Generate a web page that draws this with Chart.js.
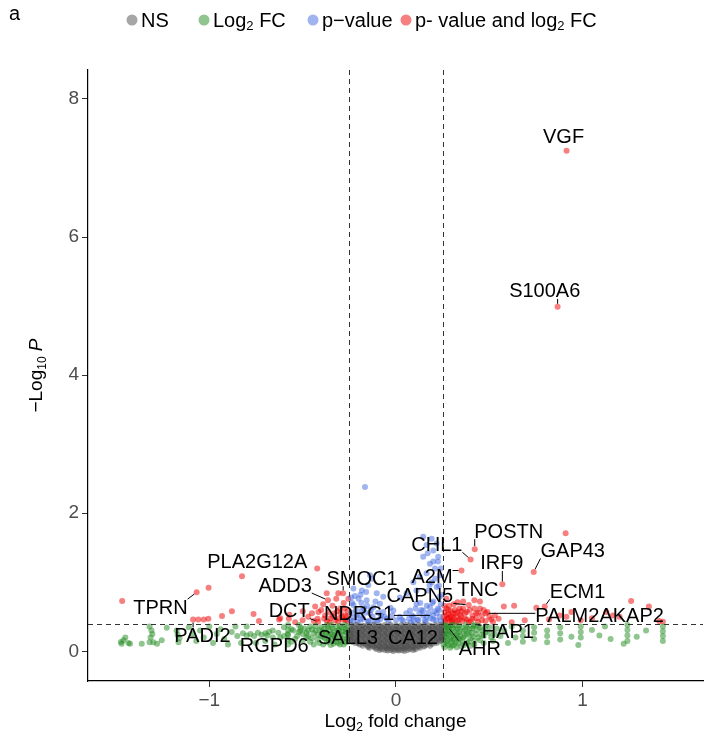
<!DOCTYPE html>
<html>
<head>
<meta charset="utf-8">
<script src="https://cdn.jsdelivr.net/npm/chart.js@4"></script>
<style>
  body { margin: 0; background: #fff; }
  canvas { display: block; }
</style>
</head>
<body>
<canvas id="volcano" width="706" height="736"></canvas>
<script>
// cutoffs used by the plot
const fcCutoff = 0.25;
const pCutoff = 0.4;

const xTicks = [-1, 0, 1];
const yTicks = [0, 2, 4, 6, 8];

// NS: small fold change, not significant
const nsPoints = [
    [-0.24,0.38],[-0.21,0.385],[-0.18,0.375],[-0.15,0.38],[-0.12,0.385],[-0.09,0.375],[-0.06,0.38],[-0.03,0.385],[0,0.375],
    [0.03,0.38],[0.06,0.385],[0.09,0.375],[0.12,0.38],[0.15,0.385],[0.18,0.375],[0.21,0.38],[0.24,0.385],
    [-0.232,0.36],[-0.202,0.36],[-0.172,0.36],[-0.142,0.36],[-0.112,0.36],[-0.082,0.36],[-0.052,0.36],[-0.022,0.36],[0.008,0.36],
    [0.038,0.36],[0.068,0.36],[0.098,0.36],[0.128,0.36],[0.158,0.36],[0.188,0.36],[0.218,0.36],[0.243,0.36],
    [-0.225,0.34],[-0.195,0.335],[-0.165,0.345],[-0.135,0.34],[-0.105,0.335],[-0.075,0.345],[-0.045,0.34],[-0.015,0.335],
    [0.015,0.345],[0.045,0.34],[0.075,0.335],[0.105,0.345],[0.135,0.34],[0.165,0.335],[0.195,0.345],[0.225,0.34],
    [-0.238,0.32],[-0.208,0.32],[-0.178,0.32],[-0.148,0.32],[-0.118,0.32],[-0.088,0.32],[-0.058,0.32],[-0.028,0.32],[0.002,0.32],
    [0.032,0.32],[0.062,0.32],[0.092,0.32],[0.122,0.32],[0.152,0.32],[0.182,0.32],[0.212,0.32],[0.242,0.32],
    [-0.24,0.3],[-0.21,0.295],[-0.18,0.305],[-0.15,0.3],[-0.12,0.295],[-0.09,0.305],[-0.06,0.3],[-0.03,0.295],[0,0.305],
    [0.03,0.3],[0.06,0.295],[0.09,0.305],[0.12,0.3],[0.15,0.295],[0.18,0.305],[0.21,0.3],[0.24,0.295],
    [-0.232,0.28],[-0.202,0.28],[-0.172,0.28],[-0.142,0.28],[-0.112,0.28],[-0.082,0.28],[-0.052,0.28],[-0.022,0.28],[0.008,0.28],
    [0.038,0.28],[0.068,0.28],[0.098,0.28],[0.128,0.28],[0.158,0.28],[0.188,0.28],[0.218,0.28],[0.243,0.28],
    [-0.245,0.26],[-0.225,0.255],[-0.195,0.265],[-0.165,0.26],[-0.135,0.255],[-0.105,0.265],[-0.075,0.26],[-0.045,0.255],[-0.015,0.265],
    [0.015,0.26],[0.045,0.255],[0.075,0.265],[0.105,0.26],[0.135,0.255],[0.165,0.265],[0.195,0.26],[0.225,0.255],[0.245,0.265],
    [-0.238,0.24],[-0.208,0.24],[-0.178,0.24],[-0.148,0.24],[-0.118,0.24],[-0.088,0.24],[-0.058,0.24],[-0.028,0.24],[0.002,0.24],
    [0.032,0.24],[0.062,0.24],[0.092,0.24],[0.122,0.24],[0.152,0.24],[0.182,0.24],[0.212,0.24],[0.242,0.24],
    [-0.24,0.22],[-0.21,0.215],[-0.18,0.225],[-0.15,0.22],[-0.12,0.215],[-0.09,0.225],[-0.06,0.22],[-0.03,0.215],[0,0.225],
    [0.03,0.22],[0.06,0.215],[0.09,0.225],[0.12,0.22],[0.15,0.215],[0.18,0.225],[0.21,0.22],[0.24,0.215],
    [-0.232,0.2],[-0.202,0.2],[-0.172,0.2],[-0.142,0.2],[-0.112,0.2],[-0.082,0.2],[-0.052,0.2],[-0.022,0.2],[0.008,0.2],
    [0.038,0.2],[0.068,0.2],[0.098,0.2],[0.128,0.2],[0.158,0.2],[0.188,0.2],[0.218,0.2],[0.243,0.2],
    [-0.245,0.18],[-0.225,0.175],[-0.195,0.185],[-0.165,0.18],[-0.135,0.175],[-0.105,0.185],[-0.075,0.18],[-0.045,0.175],[-0.015,0.185],
    [0.015,0.18],[0.045,0.175],[0.075,0.185],[0.105,0.18],[0.135,0.175],[0.165,0.185],[0.195,0.18],[0.225,0.175],[0.245,0.185],
    [-0.238,0.16],[-0.208,0.16],[-0.178,0.16],[-0.148,0.16],[-0.118,0.16],[-0.088,0.16],[-0.058,0.16],[-0.028,0.16],[0.002,0.16],
    [0.032,0.16],[0.062,0.16],[0.092,0.16],[0.122,0.16],[0.152,0.16],[0.182,0.16],[0.212,0.16],[0.242,0.16],
    [-0.235,0.14],[-0.21,0.145],[-0.18,0.135],[-0.15,0.14],[-0.12,0.145],[-0.09,0.135],[-0.06,0.14],[-0.03,0.145],[0,0.135],
    [0.03,0.14],[0.06,0.145],[0.09,0.135],[0.12,0.14],[0.15,0.145],[0.18,0.135],[0.21,0.14],[0.235,0.145],
    [-0.218,0.12],[-0.202,0.12],[-0.172,0.12],[-0.142,0.12],[-0.112,0.12],[-0.082,0.12],[-0.052,0.12],[-0.022,0.12],[0.008,0.12],
    [0.038,0.12],[0.068,0.12],[0.098,0.12],[0.128,0.12],[0.158,0.12],[0.188,0.12],[0.218,0.12],
    [-0.195,0.1],[-0.165,0.105],[-0.135,0.095],[-0.105,0.1],[-0.075,0.105],[-0.045,0.095],[-0.015,0.1],
    [0.015,0.105],[0.045,0.095],[0.075,0.1],[0.105,0.105],[0.135,0.095],[0.165,0.1],[0.195,0.105],
    [-0.178,0.08],[-0.148,0.08],[-0.118,0.08],[-0.088,0.08],[-0.058,0.08],[-0.028,0.08],[0.002,0.08],
    [0.032,0.08],[0.062,0.08],[0.092,0.08],[0.122,0.08],[0.152,0.08],[0.182,0.08],
    [-0.15,0.065],[-0.12,0.07],[-0.09,0.06],[-0.06,0.065],[-0.03,0.07],[0,0.06],[0.03,0.065],[0.06,0.07],[0.09,0.06],[0.12,0.065],[0.15,0.07],
    [-0.142,0.05],[-0.112,0.05],[-0.082,0.05],[-0.052,0.05],[-0.022,0.05],[0.008,0.05],[0.038,0.05],[0.068,0.05],[0.098,0.05],[0.128,0.05],
    [-0.105,0.035],[-0.075,0.03],[-0.045,0.04],[-0.015,0.035],[0.015,0.03],[0.045,0.04],[0.075,0.035],[0.105,0.03],
    [-0.088,0.02],[-0.058,0.02],[-0.028,0.02],[0.002,0.02],[0.032,0.02],[0.062,0.02],[0.092,0.02],
    [-0.045,0.01],[-0.015,0.005],[0.015,0.01],[0.045,0.005]
];

// Log2 FC only
const fcPoints = [
    [-1.474,0.135],[-1.46,0.16],[-1.433,0.12],[-1.425,0.11],[-1.45,0.2],[-1.47,0.11],[-1.362,0.11],
    [-1.32,0.36],[-1.31,0.3],[-1.305,0.25],[-1.315,0.2],[-1.3,0.13],[-1.32,0.13],[-1.28,0.11],[-1.255,0.16],
    [-1.228,0.34],[-1.175,0.3],[-1.17,0.24],[-1.165,0.13],[-1.16,0.19],
    [-1.11,0.35],[-1.09,0.25],[-1.07,0.15],[-1.05,0.3],[-1.03,0.2],[-1.0,0.36],[-0.98,0.12],[-0.96,0.25],
    [-0.94,0.32],[-0.92,0.18],[-0.9,0.1],[-0.88,0.28],[-0.86,0.36],[-0.85,0.22],[-0.83,0.12],
    [-0.82,0.26],[-0.8,0.23],[-0.78,0.25],[-0.76,0.22],[-0.74,0.27],[-0.72,0.24],[-0.7,0.26],[-0.68,0.28],
    [-0.66,0.3],[-0.8,0.36],[-0.75,0.12],[-0.7,0.15],[-0.65,0.1],[-0.6,0.35],[-0.62,0.2],
    [-0.578,0.1],[-0.578,0.17],[-0.578,0.24],[-0.578,0.31],[-0.578,0.38],
    [-0.55,0.3],[-0.53,0.22],[-0.51,0.34],[-0.5,0.15],[-0.48,0.27],[-0.46,0.36],[-0.45,0.19],[-0.43,0.3],
    [-0.42,0.24],[-0.41,0.12],[-0.4,0.35],[-0.39,0.2],[-0.38,0.28],[-0.37,0.38],[-0.36,0.16],[-0.35,0.25],
    [-0.34,0.33],[-0.33,0.21],[-0.32,0.14],[-0.31,0.3],[-0.3,0.37],[-0.29,0.24],[-0.28,0.18],[-0.27,0.32],
    [-0.26,0.26],[-0.26,0.36],[-0.27,0.13],[-0.3,0.1],[-0.35,0.09],[-0.44,0.1],[-0.47,0.22],[-0.52,0.38],[-0.56,0.14],
    [-0.255,0.14],[-0.255,0.22],[-0.255,0.3],[-0.265,0.19],[-0.27,0.28],[-0.275,0.38],[-0.28,0.1],[-0.285,0.29],
    [-0.29,0.35],[-0.295,0.16],[-0.3,0.22],[-0.305,0.31],[-0.31,0.12],[-0.315,0.26],[-0.32,0.36],[-0.325,0.19],
    [-0.33,0.29],[-0.335,0.11],[-0.34,0.24],[-0.345,0.38],[-0.35,0.17],[-0.355,0.31],[-0.36,0.22],[-0.365,0.35],
    [-0.37,0.13],[-0.375,0.26],[-0.38,0.19],[-0.385,0.33],[-0.39,0.1],[-0.395,0.28],[-0.4,0.22],[-0.41,0.31],
    [-0.42,0.17],[-0.43,0.37],[-0.44,0.26],[-0.45,0.32],[-0.46,0.14],[-0.47,0.3],[-0.48,0.2],[-0.49,0.33],
    [-0.5,0.25],[-0.52,0.28],[-0.54,0.18],[-0.56,0.32],[-0.58,0.25],[-0.6,0.22],[-0.63,0.27],[-0.66,0.2],[-0.69,0.23],
    [0.26,0.38],[0.26,0.3],[0.26,0.2],[0.27,0.12],[0.27,0.25],[0.28,0.35],[0.29,0.17],[0.29,0.28],[0.3,0.08],
    [0.3,0.38],[0.31,0.22],[0.32,0.32],[0.32,0.13],[0.33,0.26],[0.34,0.37],[0.34,0.18],[0.35,0.07],[0.36,0.29],
    [0.37,0.22],[0.38,0.35],[0.38,0.12],[0.39,0.27],[0.4,0.19],[0.41,0.33],[0.42,0.1],[0.43,0.25],[0.44,0.37],
    [0.45,0.16],[0.46,0.3],[0.47,0.22],[0.48,0.36],[0.5,0.27],[0.52,0.15],[0.54,0.33],[0.56,0.22],[0.58,0.3],
    [0.6,0.12],[0.62,0.36],[0.64,0.2],
    [0.255,0.1],[0.255,0.16],[0.255,0.25],[0.255,0.34],[0.26,0.06],[0.265,0.21],[0.265,0.29],[0.27,0.37],
    [0.275,0.15],[0.28,0.09],[0.28,0.24],[0.285,0.31],[0.29,0.05],[0.29,0.36],[0.295,0.2],[0.3,0.14],
    [0.3,0.27],[0.305,0.33],[0.31,0.09],[0.31,0.17],[0.315,0.38],[0.32,0.24],[0.325,0.06],[0.33,0.19],
    [0.33,0.33],[0.335,0.12],[0.34,0.28],[0.345,0.22],[0.35,0.35],[0.355,0.15],[0.36,0.2],[0.365,0.09],
    [0.37,0.31],[0.375,0.38],[0.38,0.25],[0.39,0.14],[0.395,0.33],[0.4,0.08],[0.405,0.27],[0.41,0.21],
    [0.415,0.37],[0.42,0.15],[0.43,0.31],[0.44,0.2],[0.45,0.34],[0.46,0.24],[0.47,0.12],[0.48,0.28],
    [0.5,0.35],[0.51,0.2],[0.53,0.25],
    [0.68,0.14],[0.68,0.22],[0.68,0.3],[0.74,0.18],[0.74,0.27],[0.74,0.35],[0.81,0.13],[0.81,0.22],[0.81,0.3],
    [0.88,0.17],[0.88,0.26],[0.88,0.35],[0.977,0.09],[0.99,0.2],[0.99,0.28],[0.99,0.36],[1.09,0.23],[1.05,0.31],
    [1.15,0.18],[1.24,0.15],[1.24,0.23],[1.24,0.31],[1.24,0.38],[1.22,0.11],[1.29,0.21],[1.34,0.3],
    [1.43,0.15],[1.43,0.22],[1.43,0.29],[1.43,0.36],[0.94,0.21],[1.12,0.36],[0.42,0.38],[0.278,0.35],[-0.513,0.3]
];

// p-value only
const pPoints = [
    [-0.166,2.38],
    [0.146,1.66],[0.191,1.63],[0.218,1.56],[0.164,1.54],[0.2,1.46],[0.226,1.37],[0.146,1.37],[0.182,1.27],
    [0.209,1.2],[0.235,1.1],[0.164,1.13],[0.128,1.08],[0.093,1.0],[0.191,1.0],[0.218,0.93],[0.173,0.88],
    [0.11,0.88],[0.057,0.84],[0.021,0.78],[0.235,0.79],
    [-0.148,0.96],[-0.13,1.05],[-0.139,1.1],[-0.183,0.88],[-0.228,0.91],[-0.103,0.84],[-0.068,0.79],[-0.2,0.76],
    [-0.157,0.74],[-0.228,0.67],[-0.121,0.64],[-0.086,0.69],[-0.183,0.59],[-0.139,0.55],[-0.068,0.57],[-0.014,0.59],
    [0.021,0.5],[0.075,0.59],[0.11,0.69],[0.146,0.59],[0.182,0.64],[0.218,0.55],[0.164,0.5],[0.093,0.5],
    [-0.23,0.44],[-0.19,0.46],[-0.15,0.43],[-0.1,0.45],[-0.05,0.47],[0.04,0.44],[0.08,0.42],[0.12,0.45],
    [0.16,0.43],[0.2,0.46],[0.24,0.44],[0.23,0.6],[0.2,0.72],[0.13,0.7],[-0.21,0.52],[-0.17,0.62],
    [-0.08,0.52],[-0.03,0.63],[0.198,0.52],[-0.22,0.8],[0.24,0.68],
    [0.235,0.5],[0.225,0.62],[0.215,0.45],[0.205,0.58],[0.195,0.7],[0.185,0.48],[0.175,0.56],[0.165,0.66],
    [0.155,0.45],[0.145,0.52],[0.135,0.6],[0.125,0.55],[0.115,0.46],[0.105,0.62],[0.095,0.44],[0.085,0.52],
    [0.07,0.47],[0.055,0.55],[0.03,0.46],[0.245,0.82],[0.23,0.95],[0.21,1.05],[0.18,0.96],[0.24,1.2],
    [0.225,1.3],[0.2,1.3],[0.17,1.42],
    [-0.245,0.45],[-0.24,0.56],[-0.235,0.7],[-0.225,0.49],[-0.215,0.6],[-0.205,0.43],[-0.195,0.53],[-0.185,0.7],
    [-0.175,0.47],[-0.165,0.56],[-0.155,0.66],[-0.145,0.44],[-0.135,0.6],[-0.125,0.5],[-0.115,0.43],[-0.11,0.72],
    [-0.095,0.56],[-0.085,0.46],[-0.06,0.5],[-0.04,0.44],[-0.02,0.52],[0.0,0.45],[-0.19,0.82],[-0.16,0.86],[-0.24,0.78]
];

// p-value and log2 FC
const bothPoints = [
    [0.914,7.25],[0.866,4.99],
    [-1.467,0.73],[-1.068,0.855],[-1.004,0.92],[-0.825,1.087],[-0.422,1.2],[-1.087,0.46],[-1.059,0.46],
    [-0.932,0.51],[-0.879,0.58],[-0.763,0.54],[-0.734,0.44],[-0.62,0.48],[-0.571,0.53],[-0.499,0.58],
    [-0.433,0.65],[-0.415,0.57],[-0.371,0.84],[-0.309,0.84],[-0.255,0.76],[-0.364,0.74],[-0.283,0.84],
    [-0.417,0.43],[-1.005,0.47],[-1.03,0.46],[-0.626,0.46],[-0.574,0.47],
    [-0.27,0.45],[-0.29,0.5],[-0.31,0.43],[-0.33,0.55],[-0.3,0.62],[-0.35,0.48],[-0.38,0.52],[-0.4,0.6],
    [-0.26,0.58],[-0.28,0.7],[-0.34,0.66],[-0.37,0.44],[-0.42,0.47],[-0.45,0.55],[-0.32,0.76],[-0.27,0.52],
    [-0.26,0.44],[-0.265,0.5],[-0.275,0.62],[-0.285,0.46],[-0.295,0.55],[-0.305,0.48],[-0.315,0.58],[-0.325,0.45],
    [-0.34,0.51],[-0.355,0.42],[-0.36,0.57],[-0.385,0.47],[-0.39,0.68],[-0.44,0.44],[-0.47,0.5],[-0.5,0.45],[-0.54,0.42],
    [0.422,1.48],[0.4,1.33],[0.351,1.17],[0.57,0.97],[0.45,0.72],[0.738,1.15],[0.909,1.71],[0.797,0.65],
    [0.481,0.55],[0.39,0.67],[0.578,0.65],[0.633,0.66],[1.26,0.73],[1.355,0.65],[0.752,0.63],[0.877,0.52],
    [0.913,0.5],[0.94,0.57],[1.162,0.52],[1.198,0.5],[1.43,0.43],[1.41,0.44],[1.127,0.57],
    [0.99,0.45],[1.05,0.48],[0.69,0.45],[0.62,0.42],[0.82,0.46],
    [0.26,0.45],[0.27,0.52],[0.28,0.6],[0.29,0.43],[0.3,0.5],[0.31,0.68],[0.32,0.55],[0.33,0.44],[0.34,0.62],
    [0.35,0.5],[0.36,0.72],[0.37,0.47],[0.38,0.57],[0.39,0.42],[0.4,0.44],[0.41,0.52],[0.42,0.62],[0.43,0.48],
    [0.44,0.56],[0.45,0.62],[0.46,0.45],[0.47,0.6],[0.5,0.5],[0.52,0.43],[0.55,0.47],[0.27,0.76],[0.3,0.42],
    [0.33,0.71],[0.28,0.48],[0.35,0.58],[0.26,0.66],[0.42,0.74],[0.48,0.44],
    [0.255,0.5],[0.26,0.57],[0.265,0.42],[0.27,0.62],[0.275,0.47],[0.28,0.54],[0.285,0.66],[0.29,0.5],
    [0.295,0.58],[0.3,0.45],[0.305,0.55],[0.31,0.48],[0.315,0.6],[0.32,0.42],[0.325,0.5],[0.33,0.57],
    [0.34,0.46],[0.345,0.53],[0.355,0.44],[0.36,0.62],[0.37,0.55],[0.38,0.46],[0.395,0.6],[0.41,0.47],
    [0.43,0.55],[0.44,0.43],[0.46,0.52],[0.49,0.57],[0.51,0.46],[0.53,0.52]
];

// labelled genes and where they sit
const geneNames = ["VGF", "S100A6", "POSTN", "CHL1", "IRF9", "GAP43", "A2M", "TNC", "CAPN5", "ECM1",
    "PALM2AKAP2", "HAP1", "AHR", "CA12", "SALL3", "NDRG1", "DCT", "ADD3", "SMOC1", "PLA2G12A", "TPRN", "PADI2", "RGPD6"];
const geneFC = [0.914, 0.866, 0.422, 0.4, 0.57, 0.738, 0.351, 0.45, 0.39, 0.797,
    0.481, 0.42, 0.278, 0.09, -0.26, 0.198, -0.417, -0.364, -0.283, -0.825, -1.068, -1.087, -0.513];
const geneP = [7.25, 4.99, 1.48, 1.33, 0.97, 1.15, 1.17, 0.72, 0.67, 0.65,
    0.55, 0.38, 0.35, 0.2, 0.2, 0.52, 0.43, 0.74, 0.84, 1.087, 0.855, 0.46, 0.3];
// label anchors (repelled positions), in axis units
const labelAnchor = [[0.898,7.45],[0.797,5.22],[0.604,1.74],[0.219,1.55],[0.567,1.28],[0.947,1.46],[0.193,1.09],
    [0.439,0.9],[0.128,0.81],[0.973,0.87],[1.091,0.52],[0.599,0.28],[0.449,0.04],[0.091,0.2],[-0.257,0.2],
    [-0.198,0.55],[-0.572,0.59],[-0.594,0.96],[-0.182,1.06],[-0.743,1.3],[-1.262,0.64],[-1.037,0.23],[-0.652,0.09]];

const legendItems = [
    {parts: [{t: "NS"}], color: "rgba(77,77,77,0.5)", at: 132},
    {parts: [{t: "Log"}, {t: "2", sub: true}, {t: " FC"}], color: "rgba(34,139,34,0.5)", at: 204},
    {parts: [{t: "p\u2212value"}], color: "rgba(65,105,225,0.5)", at: 313},
    {parts: [{t: "p- value and log"}, {t: "2", sub: true}, {t: " FC"}], color: "rgba(238,0,0,0.5)", at: 406}
];

const FONT = "'Liberation Sans', Arial, Helvetica, sans-serif";

const toXY = pts => pts.map(p => ({x: p[0], y: p[1]}));

function richWidth(ctx, parts, size) {
    return parts.reduce((w, p) => {
        ctx.font = `${p.italic ? "italic " : ""}${p.sub ? Math.round(size * 0.65) : size}px ${FONT}`;
        return w + ctx.measureText(p.t).width;
    }, 0);
}

function drawRich(ctx, parts, x, y, size) {
    let cx = x;
    parts.forEach(p => {
        const s = p.sub ? Math.round(size * 0.65) : size;
        ctx.font = `${p.italic ? "italic " : ""}${s}px ${FONT}`;
        ctx.fillText(p.t, cx, p.sub ? y + size * 0.28 : y);
        cx += ctx.measureText(p.t).width;
    });
}

const decor = {
    id: "decor",
    afterDatasetsDraw(chart) {
        const {ctx, chartArea: ca, scales: {x, y}} = chart;

        // cutoff lines
        ctx.save();
        ctx.strokeStyle = "#333";
        ctx.lineWidth = 1;
        ctx.setLineDash([5, 4]);
        [-fcCutoff, fcCutoff].forEach(v => {
            const px = Math.round(x.getPixelForValue(v)) + 0.5;
            ctx.beginPath();
            ctx.moveTo(px, ca.top);
            ctx.lineTo(px, ca.bottom);
            ctx.stroke();
        });
        const py = Math.round(y.getPixelForValue(pCutoff)) + 0.5;
        ctx.beginPath();
        ctx.moveTo(ca.left, py);
        ctx.lineTo(ca.right, py);
        ctx.stroke();
        ctx.restore();

        // gene labels with connectors
        ctx.save();
        ctx.font = `20px ${FONT}`;
        ctx.textAlign = "center";
        ctx.textBaseline = "middle";
        ctx.fillStyle = "#000";
        ctx.strokeStyle = "#000";
        ctx.lineWidth = 1;
        geneNames.forEach((name, i) => {
            const px = x.getPixelForValue(geneFC[i]);
            const ppy = y.getPixelForValue(geneP[i]);
            const lx = x.getPixelForValue(labelAnchor[i][0]);
            const ly = y.getPixelForValue(labelAnchor[i][1]);
            const w = ctx.measureText(name).width;
            const h = 16;
            const bx = Math.max(lx - w / 2, Math.min(px, lx + w / 2));
            const by = Math.max(ly - h / 2, Math.min(ppy, ly + h / 2));
            const d = Math.hypot(bx - px, by - ppy);
            if (d > 7) {
                const k = 3 / d;
                ctx.beginPath();
                ctx.moveTo(px + (bx - px) * k, ppy + (by - ppy) * k);
                ctx.lineTo(bx, by);
                ctx.stroke();
            }
            ctx.fillText(name, lx, ly + 1);
        });
        ctx.restore();
    },
    afterDraw(chart) {
        const {ctx, chartArea: ca} = chart;
        ctx.save();
        ctx.fillStyle = "#000";
        ctx.textBaseline = "middle";
        ctx.textAlign = "left";

        // panel letter
        ctx.font = `20px ${FONT}`;
        ctx.fillText("a", 9, 14);

        // legend
        const ly = 20;
        legendItems.forEach(item => {
            ctx.fillStyle = item.color;
            ctx.beginPath();
            ctx.arc(item.at, ly, 5.5, 0, Math.PI * 2);
            ctx.fill();
            ctx.fillStyle = "#000";
            drawRich(ctx, item.parts, item.at + 9, ly + 1, 20);
        });

        // x title
        const xt = [{t: "Log"}, {t: "2", sub: true}, {t: " fold change"}];
        const xw = richWidth(ctx, xt, 19);
        drawRich(ctx, xt, (ca.left + ca.right) / 2 - xw / 2, 722, 19);

        // y title
        const yt = [{t: "\u2212Log"}, {t: "10", sub: true}, {t: " "}, {t: "P", italic: true}];
        const yw = richWidth(ctx, yt, 19);
        ctx.translate(37, (ca.top + ca.bottom) / 2);
        ctx.rotate(-Math.PI / 2);
        drawRich(ctx, yt, -yw / 2, 0, 19);
        ctx.restore();
    }
};

const pointStyle = color => ({
    backgroundColor: color,
    borderWidth: 0,
    pointRadius: 3,
    pointHoverRadius: 3
});

new Chart(document.getElementById("volcano"), {
    type: "scatter",
    data: {
        datasets: [
            {label: "NS", data: toXY(nsPoints), ...pointStyle("rgba(77,77,77,0.5)")},
            {label: "Log2 FC", data: toXY(fcPoints), ...pointStyle("rgba(34,139,34,0.5)")},
            {label: "p-value", data: toXY(pPoints), ...pointStyle("rgba(65,105,225,0.5)")},
            {label: "p- value and log2 FC", data: toXY(bothPoints), ...pointStyle("rgba(238,0,0,0.5)")}
        ]
    },
    options: {
        responsive: false,
        devicePixelRatio: 1,
        animation: false,
        layout: {padding: {top: 70, right: 2, left: 0, bottom: 0}},
        plugins: {legend: {display: false}, tooltip: {enabled: false}},
        scales: {
            x: {
                type: "linear",
                min: -1.65,
                max: 1.645,
                afterBuildTicks: s => { s.ticks = xTicks.map(v => ({value: v})); },
                afterFit: s => { s.height = 55; },
                ticks: {
                    color: "#4d4d4d",
                    font: {size: 19, family: FONT},
                    padding: 2,
                    callback: v => String(v).replace("-", "\u2212")
                },
                grid: {drawOnChartArea: false, tickLength: 6, color: "#333"},
                border: {color: "#000", width: 1.2}
            },
            y: {
                type: "linear",
                min: -0.43,
                max: 8.42,
                afterBuildTicks: s => { s.ticks = yTicks.map(v => ({value: v})); },
                afterFit: s => { s.width = 88; },
                ticks: {
                    color: "#4d4d4d",
                    font: {size: 19, family: FONT},
                    padding: 3
                },
                grid: {drawOnChartArea: false, tickLength: 6, color: "#333"},
                border: {color: "#000", width: 1.2}
            }
        }
    },
    plugins: [decor]
});
</script>
</body>
</html>
